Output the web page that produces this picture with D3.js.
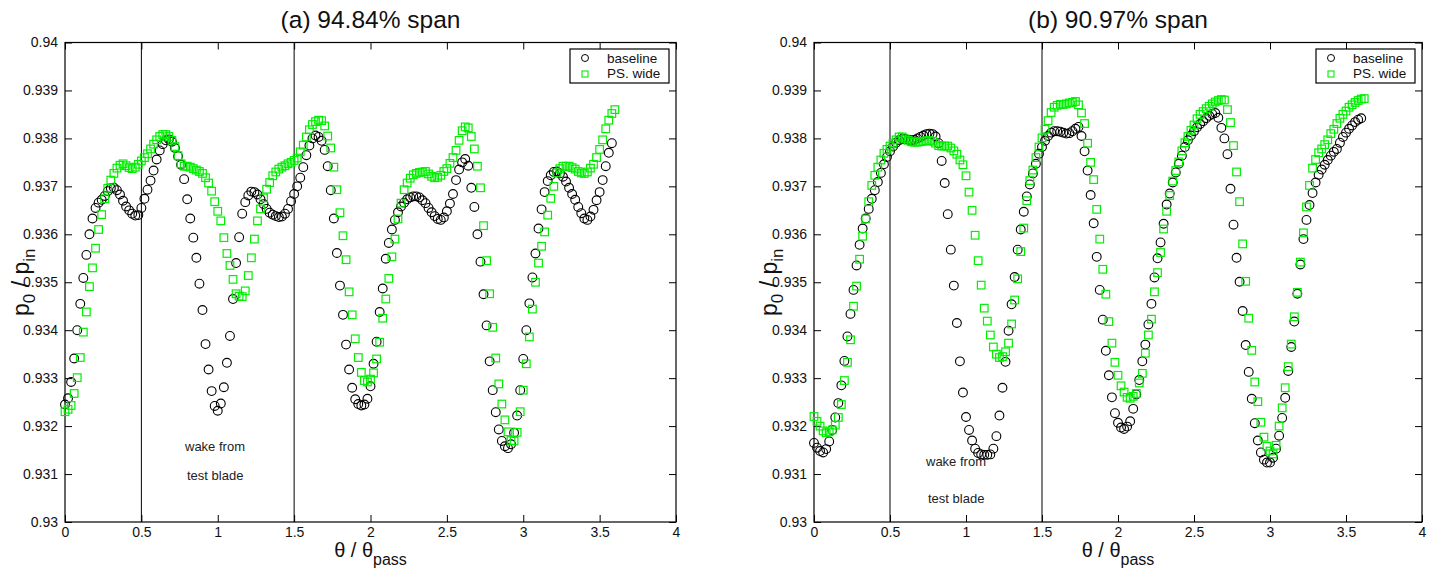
<!DOCTYPE html>
<html>
<head>
<meta charset="utf-8">
<script src="https://cdn.jsdelivr.net/npm/d3@7"></script>
<style>
  body { margin: 0; background: #fff; }
  svg { font-family: "Liberation Sans", Arial, sans-serif; }
</style>
</head>
<body>
<svg id="chart" width="1440" height="570"></svg>
<script>
// theta / theta_pass sample positions shared by all series
var theta = [
  0, 0.02, 0.04, 0.06, 0.08, 0.1, 0.12, 0.14, 0.16, 0.18,
  0.2, 0.22, 0.24, 0.26, 0.28, 0.3, 0.32, 0.34, 0.36, 0.38,
  0.4, 0.42, 0.44, 0.46, 0.48, 0.5, 0.52, 0.54, 0.56, 0.58,
  0.6, 0.62, 0.64, 0.66, 0.68, 0.7, 0.72, 0.74, 0.76, 0.78,
  0.8, 0.82, 0.84, 0.86, 0.88, 0.9, 0.92, 0.94, 0.96, 0.98,
  1, 1.02, 1.04, 1.06, 1.08, 1.1, 1.12, 1.14, 1.16, 1.18,
  1.2, 1.22, 1.24, 1.26, 1.28, 1.3, 1.32, 1.34, 1.36, 1.38,
  1.4, 1.42, 1.44, 1.46, 1.48, 1.5, 1.52, 1.54, 1.56, 1.58,
  1.6, 1.62, 1.64, 1.66, 1.68, 1.7, 1.72, 1.74, 1.76, 1.78,
  1.8, 1.82, 1.84, 1.86, 1.88, 1.9, 1.92, 1.94, 1.96, 1.98,
  2, 2.02, 2.04, 2.06, 2.08, 2.1, 2.12, 2.14, 2.16, 2.18,
  2.2, 2.22, 2.24, 2.26, 2.28, 2.3, 2.32, 2.34, 2.36, 2.38,
  2.4, 2.42, 2.44, 2.46, 2.48, 2.5, 2.52, 2.54, 2.56, 2.58,
  2.6, 2.62, 2.64, 2.66, 2.68, 2.7, 2.72, 2.74, 2.76, 2.78,
  2.8, 2.82, 2.84, 2.86, 2.88, 2.9, 2.92, 2.94, 2.96, 2.98,
  3, 3.02, 3.04, 3.06, 3.08, 3.1, 3.12, 3.14, 3.16, 3.18,
  3.2, 3.22, 3.24, 3.26, 3.28, 3.3, 3.32, 3.34, 3.36, 3.38,
  3.4, 3.42, 3.44, 3.46, 3.48, 3.5, 3.52, 3.54, 3.56, 3.58,
  3.6, 3.62
];

// (a) 94.84% span
var spanA_baseline = [
  0.93245, 0.93258, 0.93292, 0.93341, 0.93400, 0.93455, 0.93509, 0.93557, 0.93600, 0.93633,
  0.93655, 0.93666, 0.93672, 0.93680, 0.93690, 0.93696, 0.93697, 0.93692, 0.93683, 0.93670,
  0.93658, 0.93650, 0.93643, 0.93639, 0.93640, 0.93655, 0.93674, 0.93693, 0.93712, 0.93733,
  0.93756, 0.93775, 0.93788, 0.93796, 0.93798, 0.93793, 0.93780, 0.93763, 0.93745, 0.93715,
  0.93673, 0.93633, 0.93593, 0.93551, 0.93497, 0.93442, 0.93371, 0.93318, 0.93273, 0.93242,
  0.93232, 0.93247, 0.93281, 0.93332, 0.93388, 0.93465, 0.93540, 0.93594, 0.93643, 0.93667,
  0.93681, 0.93689, 0.93688, 0.93683, 0.93673, 0.93663, 0.93653, 0.93645, 0.93641, 0.93638,
  0.93636, 0.93637, 0.93643, 0.93653, 0.93669, 0.93684, 0.93700, 0.93718, 0.93740, 0.93765,
  0.93785, 0.93800, 0.93806, 0.93803, 0.93795, 0.93776, 0.93742, 0.93692, 0.93633, 0.93561,
  0.93493, 0.93432, 0.93370, 0.93318, 0.93280, 0.93256, 0.93246, 0.93243, 0.93245, 0.93257,
  0.93283, 0.93330, 0.93376, 0.93438, 0.93487, 0.93549, 0.93582, 0.93610, 0.93630, 0.93646,
  0.93658, 0.93666, 0.93673, 0.93677, 0.93679, 0.93679, 0.93677, 0.93671, 0.93665, 0.93655,
  0.93646, 0.93638, 0.93632, 0.93630, 0.93635, 0.93648, 0.93664, 0.93684, 0.93713, 0.93735,
  0.93750, 0.93757, 0.93743, 0.93697, 0.93657, 0.93600, 0.93543, 0.93475, 0.93410, 0.93335,
  0.93275, 0.93229, 0.93193, 0.93169, 0.93158, 0.93154, 0.93162, 0.93186, 0.93222, 0.93275,
  0.93340, 0.93400, 0.93456, 0.93510, 0.93560, 0.93612, 0.93652, 0.93688, 0.93711, 0.93723,
  0.93730, 0.93731, 0.93727, 0.93720, 0.93710, 0.93697, 0.93684, 0.93672, 0.93657, 0.93644,
  0.93633, 0.93630, 0.93637, 0.93651, 0.93671, 0.93688, 0.93713, 0.93742, 0.93770, 0.93790
];
var spanA_wide = [
  0.93230, 0.93235, 0.93243, 0.93268, 0.93301, 0.93343, 0.93396, 0.93438, 0.93491, 0.93530,
  0.93571, 0.93610, 0.93641, 0.93674, 0.93696, 0.93713, 0.93727, 0.93738, 0.93744, 0.93747,
  0.93743, 0.93739, 0.93737, 0.93740, 0.93746, 0.93753, 0.93760, 0.93768, 0.93778, 0.93788,
  0.93797, 0.93804, 0.93808, 0.93808, 0.93804, 0.93796, 0.93783, 0.93764, 0.93747, 0.93742,
  0.93742, 0.93740, 0.93737, 0.93734, 0.93731, 0.93727, 0.93718, 0.93707, 0.93690, 0.93668,
  0.93648, 0.93628, 0.93593, 0.93560, 0.93535, 0.93506, 0.93476, 0.93471, 0.93470, 0.93482,
  0.93514, 0.93551, 0.93590, 0.93628, 0.93653, 0.93676, 0.93694, 0.93708, 0.93722, 0.93730,
  0.93736, 0.93740, 0.93743, 0.93747, 0.93750, 0.93754, 0.93759, 0.93772, 0.93786, 0.93803,
  0.93818, 0.93829, 0.93835, 0.93838, 0.93837, 0.93826, 0.93805, 0.93780, 0.93740, 0.93693,
  0.93645, 0.93597, 0.93547, 0.93480, 0.93432, 0.93382, 0.93343, 0.93312, 0.93295, 0.93292,
  0.93298, 0.93311, 0.93340, 0.93375, 0.93425, 0.93465, 0.93508, 0.93553, 0.93590, 0.93632,
  0.93665, 0.93693, 0.93707, 0.93717, 0.93724, 0.93727, 0.93729, 0.93730, 0.93731, 0.93726,
  0.93721, 0.93718, 0.93719, 0.93723, 0.93731, 0.93737, 0.93748, 0.93760, 0.93775, 0.93796,
  0.93816, 0.93824, 0.93822, 0.93804, 0.93778, 0.93742, 0.93697, 0.93618, 0.93545, 0.93476,
  0.93406, 0.93342, 0.93288, 0.93246, 0.93213, 0.93188, 0.93170, 0.93169, 0.93187, 0.93230,
  0.93275, 0.93330, 0.93386, 0.93444, 0.93500, 0.93540, 0.93575, 0.93605, 0.93640, 0.93675,
  0.93700, 0.93728, 0.93737, 0.93742, 0.93742, 0.93742, 0.93739, 0.93736, 0.93731, 0.93728,
  0.93727, 0.93730, 0.93738, 0.93746, 0.93760, 0.93777, 0.93797, 0.93820, 0.93838, 0.93852,
  0.93860
];

// (b) 90.97% span
var spanB_baseline = [
  0.93165, 0.93155, 0.93148, 0.93145, 0.93152, 0.93168, 0.93192, 0.93218, 0.93248, 0.93285,
  0.93336, 0.93387, 0.93434, 0.93484, 0.93535, 0.93578, 0.93612, 0.93633, 0.93653, 0.93674,
  0.93692, 0.93709, 0.93728, 0.93746, 0.93761, 0.93773, 0.93783, 0.93791, 0.93796, 0.93799,
  0.93799, 0.93797, 0.93796, 0.93797, 0.93800, 0.93803, 0.93806, 0.93809, 0.93810, 0.93809,
  0.93804, 0.93790, 0.93753, 0.93707, 0.93642, 0.93568, 0.93493, 0.93415, 0.93335, 0.93270,
  0.93219, 0.93192, 0.93170, 0.93153, 0.93144, 0.93141, 0.93140, 0.93140, 0.93141, 0.93153,
  0.93179, 0.93222, 0.93280, 0.93334, 0.93399, 0.93454, 0.93511, 0.93568, 0.93610, 0.93647,
  0.93679, 0.93704, 0.93727, 0.93747, 0.93768, 0.93782, 0.93795, 0.93805, 0.93812, 0.93815,
  0.93815, 0.93814, 0.93812, 0.93810, 0.93811, 0.93815, 0.93820, 0.93824, 0.93805, 0.93773,
  0.93733, 0.93682, 0.93623, 0.93553, 0.93484, 0.93422, 0.93357, 0.93306, 0.93260, 0.93227,
  0.93207, 0.93197, 0.93194, 0.93199, 0.93210, 0.93236, 0.93266, 0.93296, 0.93335, 0.93370,
  0.93412, 0.93455, 0.93510, 0.93550, 0.93583, 0.93622, 0.93662, 0.93685, 0.93708, 0.93729,
  0.93747, 0.93764, 0.93782, 0.93796, 0.93806, 0.93815, 0.93823, 0.93830, 0.93836, 0.93842,
  0.93847, 0.93851, 0.93853, 0.93843, 0.93822, 0.93800, 0.93767, 0.93695, 0.93620, 0.93551,
  0.93501, 0.93440, 0.93369, 0.93313, 0.93257, 0.93206, 0.93170, 0.93145, 0.93130, 0.93124,
  0.93124, 0.93134, 0.93153, 0.93180, 0.93217, 0.93259, 0.93315, 0.93365, 0.93418, 0.93476,
  0.93537, 0.93590, 0.93630, 0.93661, 0.93686, 0.93708, 0.93724, 0.93735, 0.93745, 0.93755,
  0.93764, 0.93772, 0.93778, 0.93791, 0.93803, 0.93812, 0.93820, 0.93827, 0.93834, 0.93839,
  0.93842
];
var spanB_wide = [
  0.93220, 0.93210, 0.93200, 0.93190, 0.93186, 0.93188, 0.93192, 0.93202, 0.93218, 0.93245,
  0.93295, 0.93333, 0.93380, 0.93450, 0.93492, 0.93548, 0.93596, 0.93632, 0.93668, 0.93702,
  0.93723, 0.93740, 0.93755, 0.93769, 0.93777, 0.93784, 0.93790, 0.93797, 0.93803, 0.93803,
  0.93799, 0.93796, 0.93793, 0.93792, 0.93792, 0.93793, 0.93794, 0.93795, 0.93796, 0.93794,
  0.93790, 0.93785, 0.93784, 0.93784, 0.93784, 0.93780, 0.93774, 0.93767, 0.93755, 0.93745,
  0.93722, 0.93688, 0.93650, 0.93598, 0.93545, 0.93494, 0.93446, 0.93419, 0.93390, 0.93365,
  0.93350, 0.93343, 0.93345, 0.93355, 0.93373, 0.93413, 0.93463, 0.93507, 0.93564, 0.93613,
  0.93670, 0.93712, 0.93734, 0.93760, 0.93782, 0.93801, 0.93819, 0.93837, 0.93854, 0.93865,
  0.93869, 0.93871, 0.93871, 0.93872, 0.93874, 0.93875, 0.93877, 0.93870, 0.93853, 0.93831,
  0.93790, 0.93750, 0.93714, 0.93652, 0.93590, 0.93527, 0.93475, 0.93418, 0.93373, 0.93333,
  0.93306, 0.93284, 0.93271, 0.93260, 0.93258, 0.93262, 0.93268, 0.93290, 0.93310, 0.93352,
  0.93390, 0.93423, 0.93480, 0.93520, 0.93562, 0.93611, 0.93648, 0.93681, 0.93711, 0.93733,
  0.93751, 0.93774, 0.93791, 0.93804, 0.93817, 0.93828, 0.93841, 0.93850, 0.93856, 0.93862,
  0.93867, 0.93872, 0.93876, 0.93879, 0.93881, 0.93880, 0.93860, 0.93833, 0.93785, 0.93730,
  0.93668, 0.93580, 0.93502, 0.93425, 0.93358, 0.93292, 0.93251, 0.93208, 0.93177, 0.93158,
  0.93148, 0.93142, 0.93160, 0.93200, 0.93238, 0.93280, 0.93324, 0.93371, 0.93428, 0.93479,
  0.93542, 0.93603, 0.93657, 0.93702, 0.93738, 0.93756, 0.93770, 0.93778, 0.93787, 0.93797,
  0.93810, 0.93819, 0.93831, 0.93842, 0.93850, 0.93857, 0.93865, 0.93870, 0.93875, 0.93879,
  0.93882, 0.93883
];

var xTicks = [0, 0.5, 1, 1.5, 2, 2.5, 3, 3.5, 4];
var yTicks = [0.93, 0.931, 0.932, 0.933, 0.934, 0.935, 0.936, 0.937, 0.938, 0.939, 0.94];
var wakeLines = [0.5, 1.5];
var seriesNames = ["baseline", "PS. wide"];
var panelTitles = ["(a) 94.84% span", "(b) 90.97% span"];

var green = "#00ee00";
var plotTop = 42.5, plotBottom = 522;
var svg = d3.select("#chart");

var panels = [
  { title: panelTitles[0], base: spanA_baseline, wide: spanA_wide,
    left: 65, right: 676, ylabX: 29, wakeX: 185, wakeY: [451, 480] },
  { title: panelTitles[1], base: spanB_baseline, wide: spanB_wide,
    left: 814, right: 1422, ylabX: 777, wakeX: 926, wakeY: [466, 503] }
];

panels.forEach(drawPanel);

function drawPanel(p) {
  var g = svg.append("g");
  var x = d3.scaleLinear().domain([0, 4]).range([p.left, p.right]);
  var y = d3.scaleLinear().domain([0.93, 0.94]).range([plotBottom, plotTop]);
  var fnt = "Liberation Sans, Arial, sans-serif";

  // axes with inward ticks
  function style(a) {
    a.select(".domain").remove();
    a.attr("font-size", 14).attr("font-family", fnt);
    a.selectAll("line").attr("stroke", "#000");
    a.selectAll("text").attr("fill", "#111");
  }
  g.append("g").attr("transform", "translate(0," + plotBottom + ")")
    .call(d3.axisBottom(x).tickValues(xTicks).tickFormat(d => String(d))
      .tickSizeInner(-7).tickSizeOuter(0).tickPadding(5))
    .call(style);
  g.append("g").attr("transform", "translate(0," + plotTop + ")")
    .call(d3.axisTop(x).tickValues(xTicks).tickFormat("")
      .tickSizeInner(-7).tickSizeOuter(0))
    .call(style);
  g.append("g").attr("transform", "translate(" + p.left + ",0)")
    .call(d3.axisLeft(y).tickValues(yTicks).tickFormat(d => String(+d.toFixed(3)))
      .tickSizeInner(-7).tickSizeOuter(0).tickPadding(7))
    .call(style);
  g.append("g").attr("transform", "translate(" + p.right + ",0)")
    .call(d3.axisRight(y).tickValues(yTicks).tickFormat("")
      .tickSizeInner(-7).tickSizeOuter(0))
    .call(style);

  // frame
  g.append("rect")
    .attr("x", p.left).attr("y", plotTop)
    .attr("width", p.right - p.left).attr("height", plotBottom - plotTop)
    .attr("fill", "none").attr("stroke", "#000").attr("stroke-width", 1.2);

  // wake region lines
  g.selectAll(".wake").data(wakeLines).join("line")
    .attr("x1", d => x(d)).attr("x2", d => x(d))
    .attr("y1", plotTop).attr("y2", plotBottom)
    .attr("stroke", "#000").attr("stroke-width", 1);

  g.append("text").attr("x", p.wakeX).attr("y", p.wakeY[0])
    .attr("font-size", 13).attr("fill", "#222").text("wake from");
  g.append("text").attr("x", p.wakeX + 2).attr("y", p.wakeY[1])
    .attr("font-size", 13).attr("fill", "#222").text("test blade");

  // baseline: open circles
  g.append("g").selectAll("circle").data(p.base).join("circle")
    .attr("cx", (d, i) => x(theta[i])).attr("cy", d => y(d))
    .attr("r", 4.4).attr("fill", "none")
    .attr("stroke", "#000").attr("stroke-width", 1.1);

  // PS. wide: open squares
  g.append("g").selectAll("rect").data(p.wide).join("rect")
    .attr("x", (d, i) => x(theta[i]) - 3.8).attr("y", d => y(d) - 3.8)
    .attr("width", 7.6).attr("height", 7.6).attr("fill", "none")
    .attr("stroke", green).attr("stroke-width", 1.2);

  // title
  g.append("text").attr("x", (p.left + p.right) / 2).attr("y", 28)
    .attr("text-anchor", "middle").attr("font-size", 24.5).attr("fill", "#111")
    .text(p.title);

  // x label
  var xl = g.append("text").attr("x", (p.left + p.right) / 2).attr("y", 557)
    .attr("text-anchor", "middle").attr("font-size", 20).attr("fill", "#111");
  xl.append("tspan").text("\u03b8 / \u03b8");
  xl.append("tspan").attr("font-size", 16).attr("dy", 8).text("pass");

  // y label
  var yl = g.append("text")
    .attr("transform", "translate(" + p.ylabX + "," + ((plotTop + plotBottom) / 2) + ") rotate(-90)")
    .attr("text-anchor", "middle").attr("font-size", 23).attr("fill", "#111");
  yl.append("tspan").text("p");
  yl.append("tspan").attr("font-size", 17).attr("dy", 6).text("0");
  yl.append("tspan").attr("dy", -6).text(" / p");
  yl.append("tspan").attr("font-size", 17).attr("dy", 6).text("in");

  // legend
  var bx = p.right - 106, by = 49;
  var lg = g.append("g");
  lg.append("rect").attr("x", bx).attr("y", by).attr("width", 99).attr("height", 34)
    .attr("fill", "#fff").attr("stroke", "#000").attr("stroke-width", 1.2);
  lg.append("circle").attr("cx", bx + 15).attr("cy", by + 9).attr("r", 3.5)
    .attr("fill", "none").attr("stroke", "#000");
  lg.append("rect").attr("x", bx + 12).attr("y", by + 22).attr("width", 6).attr("height", 6)
    .attr("fill", "none").attr("stroke", green).attr("stroke-width", 1.1);
  lg.append("text").attr("x", bx + 37).attr("y", by + 14).attr("font-size", 13.5)
    .attr("fill", "#111").text(seriesNames[0]);
  lg.append("text").attr("x", bx + 37).attr("y", by + 29).attr("font-size", 13.5)
    .attr("fill", "#111").text(seriesNames[1]);
}
</script>
</body>
</html>
